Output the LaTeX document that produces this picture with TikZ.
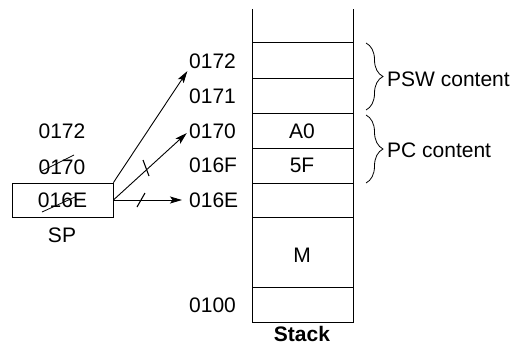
\documentclass[tikz,border=0pt]{standalone}
\usepackage{fontspec}
\setmainfont{Liberation Sans}
\usetikzlibrary{arrows.meta,decorations.pathreplacing}
\begin{document}
\begin{tikzpicture}[x=1pt,y=-1pt,
  every node/.style={font=\fontsize{21}{25}\selectfont, inner sep=0pt},
  addr/.style={anchor=west},
  stackline/.style={line width=1pt},
  conn/.style={line width=0.9pt, -{Stealth[length=12pt,width=7pt,inset=2.5pt]}},
  strike/.style={line width=1.1pt},
  bracestyle/.style={line width=0.8pt, decorate, decoration={brace, amplitude=17pt}}]
\useasboundingbox (0,0) rectangle (516,345);
% stack
\draw[stackline] (252,9) -- (252,322) -- (353,322) -- (353,9);
\foreach \yy in {43,78,113,148,183,217,287}
  \draw[stackline] (252,\yy) -- (353,\yy);
% stack contents
\node (cA0) at (302,131) {A0};
\node (c5F) at (302,165) {5F};
\node (cM) at (302,255) {M};
\node (stk) at (302,333.5) {\bfseries Stack};
% addresses
\node[addr] (a172) at (189,61) {0172};
\node[addr] (a171) at (189,96) {0171};
\node[addr] (a170) at (189,131) {0170};
\node[addr] (a16F) at (189,165) {016F};
\node[addr] (a16E) at (189,200) {016E};
\node[addr] (a100) at (189,305) {0100};
% braces
\draw[bracestyle] (366,43) -- (366,110);
\draw[bracestyle] (366,115) -- (366,183);
\node[anchor=west] (psw) at (387,79) {PSW content};
\node[anchor=west] (pc) at (387,150) {PC content};
% SP
\node (old172) at (62,131) {0172};
\node (old170) at (62,167) {0170};
\node[draw, line width=0.8pt, minimum width=101pt, minimum height=34pt] (sp) at (62.5,200) {016E};
\node (splabel) at (62,235) {SP};
% strikes through old values
\draw[strike, line width=0.8pt] (42,171) -- (74,155);
\draw[strike, line width=0.8pt] (42,212) -- (75,197);
% connectors
\draw[conn, shorten >=3pt] (sp.north east) -- (a172.south west);
\draw[conn, shorten >=3pt] (sp.east) -- (a170.west);
\draw[conn, shorten >=7pt] (sp.east) -- (a16E.west);
% strike marks on arrows
\draw[strike] (143,160) -- (149,176);
\draw[strike] (137,207) -- (145,193);
\end{tikzpicture}
\end{document}
